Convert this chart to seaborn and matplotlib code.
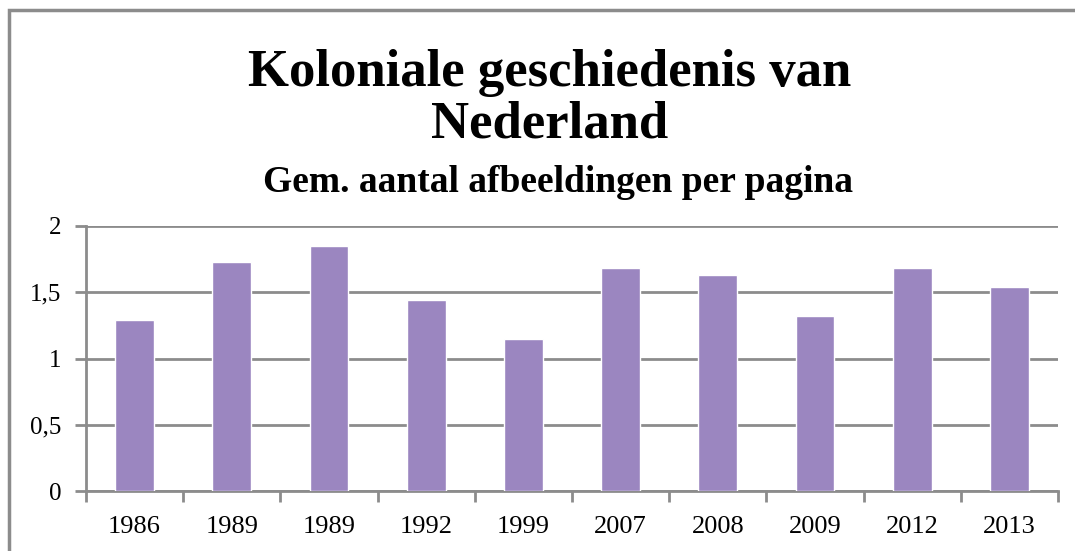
import matplotlib
matplotlib.use('Agg')
import matplotlib.pyplot as plt
import seaborn as sns
from matplotlib.patches import Rectangle
from matplotlib.ticker import FixedLocator

# Data
years = ['1986', '1989', '1989', '1992', '1999', '2007', '2008', '2009', '2012', '2013']
avg_images = [1.29, 1.73, 1.85, 1.44, 1.15, 1.68, 1.63, 1.32, 1.68, 1.54]
positions = list(range(len(years)))

title_lines = ['Koloniale geschiedenis van', 'Nederland']
subtitle = 'Gem. aantal afbeeldingen per pagina'

sns.set_style('white')
plt.rcParams['font.family'] = ['Liberation Serif', 'DejaVu Serif']
plt.rcParams['text.color'] = 'black'
plt.rcParams['xtick.color'] = 'black'
plt.rcParams['ytick.color'] = 'black'

grey = '#8c8c8c'
bar_color = '#9b86c0'

fig = plt.figure(figsize=(10.75, 5.51), dpi=100)
ax = fig.add_axes([86 / 1075, 1 - 491 / 551, (1058 - 86) / 1075, (491 - 226) / 551])

sns.barplot(x=positions, y=avg_images, color=bar_color, width=0.4,
            saturation=1, ax=ax, zorder=3)

ax.set_ylim(0, 2)
ax.set_xlim(-0.5, len(years) - 0.5)
ax.set_yticks([0, 0.5, 1, 1.5, 2])
ax.set_yticklabels(['0', '0,5', '1', '1,5', '2'], fontsize=18)
ax.yaxis.grid(True, color=grey, linewidth=2, zorder=0)

# category labels in the middle, tick marks on the boundaries
ax.xaxis.set_major_locator(FixedLocator([p - 0.5 for p in positions] + [len(years) - 0.5]))
ax.set_xticklabels([])
ax.xaxis.set_minor_locator(FixedLocator(positions))
ax.set_xticklabels(years, minor=True, fontsize=19)
ax.tick_params(axis='x', which='major', direction='out', length=8, width=2, color=grey, bottom=True)
ax.tick_params(axis='x', which='minor', length=0, pad=18)
ax.tick_params(axis='y', direction='out', length=8, width=2, color=grey, left=True, pad=10)

for side in ['top', 'right']:
    ax.spines[side].set_visible(False)
for side in ['left', 'bottom']:
    ax.spines[side].set_color(grey)
    ax.spines[side].set_linewidth(2)
ax.set_xlabel('')
ax.set_ylabel('')

fig.text(0.511, 1 - 86 / 551, title_lines[0], ha='center', va='baseline', fontsize=38,
         fontweight='bold')
fig.text(0.511, 1 - 137 / 551, title_lines[1], ha='center', va='baseline', fontsize=38,
         fontweight='bold')
fig.text(0.519, 1 - 192 / 551, subtitle, ha='center', va='baseline', fontsize=27,
         fontweight='bold')

# outer chart border
fig.patches.append(Rectangle((9 / 1075, -0.1), 1.2, 1.1 - 10 / 551, transform=fig.transFigure,
                             fill=False, edgecolor=grey, linewidth=2.5))

fig.savefig('out.png', dpi=100)
